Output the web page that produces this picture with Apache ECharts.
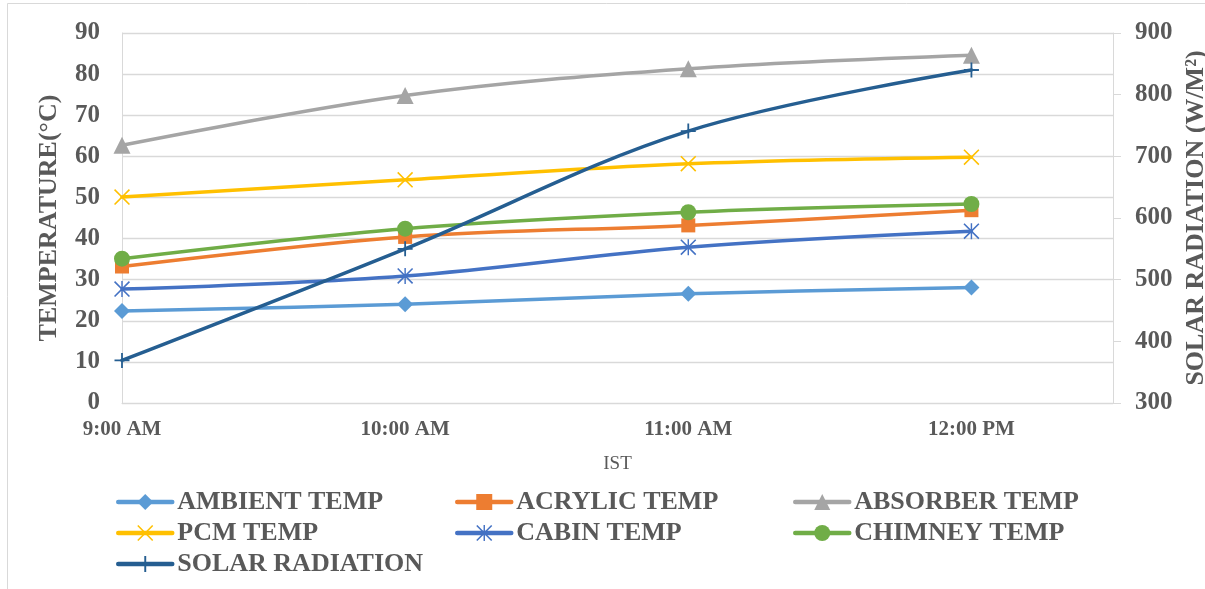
<!DOCTYPE html>
<html>
<head>
<meta charset="utf-8">
<title>Temperature and Solar Radiation</title>
<script src="https://cdn.jsdelivr.net/npm/echarts@6/dist/echarts.min.js"></script>
<style>
  html, body { margin: 0; padding: 0; background: #ffffff; }
  #chart { width: 1205px; height: 589px; }
</style>
</head>
<body>
<div id="chart"></div>
<script>
// Hourly readings (IST)
const times = ['9:00 AM', '10:00 AM', '11:00 AM', '12:00 PM'];
const hours = [9, 10, 11, 12];

// Temperatures in °C
const ambientTemp  = [22.4, 24.0, 26.6, 28.1];
const acrylicTemp  = [33.2, 40.4, 43.2, 46.9];
const absorberTemp = [62.7, 74.8, 81.3, 84.6];
const pcmTemp      = [50.1, 54.3, 58.2, 59.8];
const cabinTemp    = [27.7, 30.9, 37.9, 41.8];
const chimneyTemp  = [35.1, 42.4, 46.4, 48.4];

// Solar radiation in W/m²
const solarRadiation = [369, 550, 741, 840];

// Axis ranges
const tempRange  = [0, 90, 10];
const solarRange = [300, 900, 100];
const hourRange  = [9, 12.5, 1];

const FONT = "'Liberation Serif', 'Times New Roman', serif";
const TEXT = '#595959';
const GRID_LINE = '#d9d9d9';

// Marker outlines drawn as filled paths
const SYM_PLUS = 'path://M-1.2,-10L1.2,-10L1.2,-1.2L10,-1.2L10,1.2L1.2,1.2L1.2,10L-1.2,10L-1.2,1.2L-10,1.2L-10,-1.2L-1.2,-1.2Z';
const SYM_X = 'path://M-10,-8.6L-8.6,-10L0,-1.4L8.6,-10L10,-8.6L1.4,0L10,8.6L8.6,10L0,1.4L-8.6,10L-10,8.6L-1.4,0Z';
const SYM_STAR = 'path://M-10,-8.6L-8.6,-10L10,8.6L8.6,10Z M8.6,-10L10,-8.6L-8.6,10L-10,8.6Z M-0.9,-10L0.9,-10L0.9,10L-0.9,10Z';

const pairs = vals => hours.map((h, i) => [h, vals[i]]);

function lineSeries(name, vals, color, symbol, size, yAxisIndex) {
  return {
    name: name,
    type: 'line',
    yAxisIndex: yAxisIndex || 0,
    data: pairs(vals),
    smooth: 0.35,
    symbol: symbol,
    symbolSize: size,
    showAllSymbol: true,
    lineStyle: { color: color, width: 3.5, cap: 'round' },
    itemStyle: { color: color, borderWidth: 0 },
    emphasis: { disabled: true },
    animation: false
  };
}

const hourLabel = {};
hours.forEach((h, i) => { hourLabel[h] = times[i]; });

const legendText = { fontFamily: FONT, fontWeight: 'bold', fontSize: 26, color: TEXT, lineHeight: 26 };
function legendColumn(left, names) {
  return {
    orient: 'vertical',
    left: left,
    top: 489,
    itemWidth: 54,
    itemHeight: 20,
    itemGap: 5,
    padding: 0,
    selectedMode: false,
    lineStyle: { width: 4.5, cap: 'round' },
    textStyle: legendText,
    data: names
  };
}

const chart = echarts.init(document.getElementById('chart'), null, { renderer: 'canvas' });
chart.setOption({
  backgroundColor: '#ffffff',
  animation: false,
  graphic: [{
    type: 'rect',
    shape: { x: 7.5, y: 3.5, width: 1400, height: 800 },
    style: { fill: 'none', stroke: GRID_LINE, lineWidth: 1 },
    silent: true
  }],
  grid: {
    left: 122, right: 92, top: 33, bottom: 186,
    containLabel: false,
    outerBoundsMode: 'none'
  },
  legend: [
    legendColumn(116, ['AMBIENT TEMP', 'PCM TEMP', 'SOLAR RADIATION']),
    legendColumn(455, ['ACRYLIC TEMP', 'CABIN TEMP']),
    legendColumn(793, ['ABSORBER TEMP', 'CHIMNEY TEMP'])
  ],
  xAxis: {
    type: 'value',
    min: hourRange[0],
    max: hourRange[1],
    interval: hourRange[2],
    name: 'IST',
    nameLocation: 'middle',
    nameGap: 52,
    nameTextStyle: { fontFamily: FONT, fontSize: 19, color: TEXT },
    axisLine: { show: true, lineStyle: { color: GRID_LINE, width: 1 } },
    axisTick: { show: false },
    splitLine: { show: false },
    axisLabel: {
      showMaxLabel: false,
      margin: 16,
      fontFamily: FONT,
      fontWeight: 'bold',
      fontSize: 21,
      color: TEXT,
      formatter: v => hourLabel[v] || ''
    }
  },
  yAxis: [{
    type: 'value',
    min: tempRange[0],
    max: tempRange[1],
    interval: tempRange[2],
    name: 'TEMPERATURE(°C)',
    nameLocation: 'middle',
    nameRotate: 90,
    nameGap: 60,
    nameTextStyle: { fontFamily: FONT, fontWeight: 'bold', fontSize: 26, color: TEXT },
    axisLine: { show: true, lineStyle: { color: GRID_LINE, width: 1 } },
    axisTick: { show: false },
    splitLine: { show: true, lineStyle: { color: GRID_LINE, width: 1.3 } },
    axisLabel: { margin: 22, fontFamily: FONT, fontWeight: 'bold', fontSize: 25, color: TEXT }
  }, {
    type: 'value',
    position: 'right',
    min: solarRange[0],
    max: solarRange[1],
    interval: solarRange[2],
    name: 'SOLAR RADIATION (W/M²)',
    nameLocation: 'middle',
    nameRotate: 90,
    nameGap: 64,
    nameTextStyle: { fontFamily: FONT, fontWeight: 'bold', fontSize: 26, color: TEXT },
    axisLine: { show: true, lineStyle: { color: GRID_LINE, width: 1 } },
    axisTick: { show: true, inside: false, length: 8, lineStyle: { color: GRID_LINE, width: 1 } },
    splitLine: { show: false },
    axisLabel: { margin: 22, fontFamily: FONT, fontWeight: 'bold', fontSize: 25, color: TEXT }
  }],
  series: [
    lineSeries('AMBIENT TEMP', ambientTemp, '#5B9BD5', 'diamond', 16),
    lineSeries('ACRYLIC TEMP', acrylicTemp, '#ED7D31', 'rect', 14),
    lineSeries('ABSORBER TEMP', absorberTemp, '#A5A5A5', 'triangle', 17),
    lineSeries('PCM TEMP', pcmTemp, '#FFC000', SYM_X, 16),
    lineSeries('CABIN TEMP', cabinTemp, '#4472C4', SYM_STAR, 16),
    lineSeries('CHIMNEY TEMP', chimneyTemp, '#70AD47', 'circle', 16),
    lineSeries('SOLAR RADIATION', solarRadiation, '#255E91', SYM_PLUS, 15, 1)
  ]
});
</script>
</body>
</html>
